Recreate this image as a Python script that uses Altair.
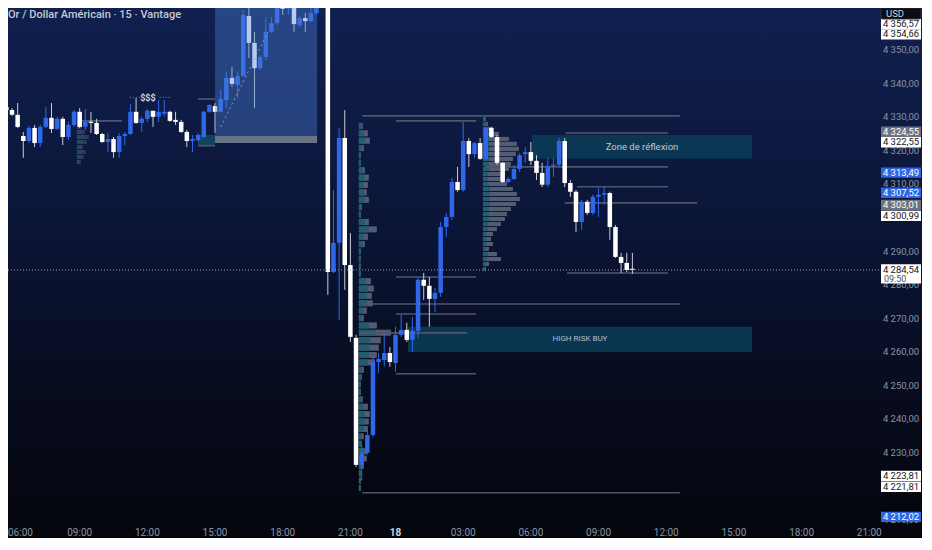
import altair as alt
import pandas as pd

# ---------------- data ----------------
# 15-minute bars; index 0 = 06:00 (day 17); market break 22:00-23:00
bar_index = list(range(-2, 111))
opens = [4331.6, 4333.0, 4332.1, 4330.7, 4324.4, 4322.9, 4326.8, 4322.3, 4327.1, 4329.8,
         4326.5, 4329.5, 4324.1, 4327.7, 4331.6, 4327.1, 4328.6, 4328.3, 4325.0, 4322.6,
         4323.5, 4319.6, 4324.4, 4325.0, 4331.6, 4328.3, 4329.5, 4331.9, 4330.1, 4331.0,
         4331.6, 4329.2, 4328.6, 4325.6, 4322.9, 4323.2, 4324.1, 4331.6, 4333.3, 4331.6,
         4335.1, 4341.7, 4339.6, 4342.3, 4360.1, 4352.1, 4344.6, 4347.9, 4355.4, 4358.0,
         4363.4, 4362.2, 4366.0, 4357.4, 4359.5, 4358.6, 4361.0, 4368.0, 4370.0, 4283.9,
         4292.6, 4323.8, 4286.0, 4264.3, 4226.5, 4230.1, 4235.4, 4257.1, 4257.7, 4259.8,
         4256.8, 4265.2, 4266.7, 4263.7, 4266.4, 4281.6, 4279.8, 4275.9, 4277.7, 4297.3,
         4300.3, 4310.7, 4308.3, 4322.9, 4319.0, 4322.3, 4317.6, 4326.8, 4324.1, 4316.4,
         4310.7, 4311.6, 4314.6, 4319.0, 4319.6, 4317.0, 4313.4, 4309.9, 4315.5, 4315.8,
         4322.9, 4310.4, 4307.8, 4298.8, 4304.8, 4301.5, 4306.3, 4306.9, 4307.4, 4297.3,
         4288.4, 4286.6, 4284.6]
highs = [4333.9, 4333.6, 4332.7, 4334.2, 4325.6, 4327.4, 4327.7, 4327.7, 4333.0, 4334.2,
         4330.1, 4330.1, 4328.6, 4332.1, 4332.7, 4332.4, 4331.6, 4329.5, 4325.3, 4325.3,
         4324.1, 4325.3, 4325.6, 4333.9, 4335.7, 4330.1, 4332.4, 4331.9, 4335.1, 4335.1,
         4331.9, 4331.6, 4329.2, 4326.2, 4324.7, 4325.3, 4331.9, 4333.9, 4334.2, 4338.1,
         4343.5, 4344.9, 4343.5, 4361.9, 4364.0, 4355.4, 4348.5, 4359.8, 4359.8, 4364.9,
         4365.2, 4368.0, 4368.0, 4360.1, 4361.0, 4364.0, 4369.0, 4374.0, 4372.0, 4308.3,
         4326.8, 4332.1, 4295.5, 4265.2, 4232.4, 4236.9, 4258.6, 4259.8, 4265.8, 4261.6,
         4267.6, 4271.1, 4268.8, 4270.5, 4282.4, 4283.6, 4282.4, 4279.2, 4298.8, 4301.5,
         4311.9, 4315.2, 4328.6, 4323.8, 4322.6, 4323.8, 4327.1, 4327.1, 4324.7, 4316.7,
         4312.2, 4315.8, 4319.3, 4321.1, 4322.6, 4318.7, 4316.4, 4317.9, 4317.9, 4323.8,
         4323.8, 4311.3, 4308.3, 4305.4, 4305.4, 4306.9, 4309.0, 4309.2, 4307.8, 4297.9,
         4289.6, 4289.6, 4289.6]
lows = [4331.0, 4330.7, 4330.4, 4326.8, 4317.9, 4322.3, 4321.1, 4321.1, 4326.8, 4325.3,
        4326.2, 4321.7, 4323.2, 4327.1, 4326.8, 4326.2, 4325.3, 4324.7, 4322.3, 4319.6,
        4317.9, 4317.9, 4321.7, 4324.7, 4328.0, 4325.6, 4328.6, 4327.1, 4328.6, 4330.1,
        4328.6, 4327.7, 4325.3, 4321.1, 4319.6, 4322.6, 4323.8, 4331.3, 4325.3, 4331.3,
        4332.7, 4339.0, 4335.7, 4342.0, 4347.6, 4332.7, 4344.0, 4347.0, 4355.1, 4357.4,
        4360.4, 4360.4, 4355.4, 4356.8, 4355.4, 4358.3, 4360.4, 4366.0, 4277.1, 4283.6,
        4269.6, 4278.6, 4263.1, 4225.9, 4221.8, 4229.5, 4234.8, 4253.9, 4255.7, 4255.7,
        4254.2, 4264.6, 4263.1, 4260.1, 4264.3, 4275.6, 4267.6, 4272.0, 4276.5, 4294.3,
        4299.4, 4307.8, 4307.8, 4315.2, 4317.9, 4317.3, 4317.3, 4323.8, 4315.8, 4310.4,
        4310.4, 4311.3, 4313.7, 4316.4, 4315.8, 4311.3, 4309.2, 4309.2, 4312.2, 4315.2,
        4309.2, 4306.3, 4295.8, 4296.4, 4300.9, 4300.9, 4300.3, 4303.9, 4293.5, 4288.1,
        4283.6, 4283.9, 4283.3]
closes = [4333.0, 4332.1, 4330.7, 4327.1, 4322.9, 4326.8, 4322.3, 4327.1, 4329.8, 4326.5,
          4329.5, 4324.1, 4327.7, 4331.6, 4327.1, 4328.6, 4328.3, 4325.0, 4322.6, 4323.5,
          4319.6, 4324.4, 4325.0, 4331.6, 4328.3, 4329.5, 4331.9, 4330.1, 4331.6, 4331.6,
          4328.9, 4328.6, 4325.6, 4322.9, 4323.5, 4324.7, 4331.6, 4333.6, 4331.6, 4335.4,
          4341.7, 4339.9, 4342.3, 4360.4, 4352.1, 4344.6, 4347.9, 4355.4, 4358.0, 4363.4,
          4362.2, 4366.0, 4357.7, 4359.5, 4358.6, 4361.0, 4367.0, 4372.0, 4283.9, 4292.6,
          4323.8, 4286.0, 4264.6, 4226.5, 4230.1, 4235.4, 4257.1, 4258.0, 4259.8, 4257.1,
          4265.2, 4266.7, 4263.7, 4266.4, 4281.6, 4279.8, 4275.9, 4277.7, 4297.3, 4300.3,
          4310.7, 4308.3, 4322.9, 4319.0, 4322.3, 4317.6, 4326.8, 4324.1, 4316.4, 4310.7,
          4311.6, 4314.6, 4318.7, 4319.6, 4317.0, 4313.4, 4309.9, 4315.5, 4315.8, 4322.9,
          4310.4, 4307.8, 4298.8, 4304.8, 4301.5, 4306.3, 4306.9, 4307.4, 4297.3, 4288.4,
          4286.6, 4284.5, 4284.54]

# time axis
time_pos = [0, 12, 24, 36, 48, 60, 68, 80, 92, 104, 116, 128, 140, 152]
time_lab = ["06:00", "09:00", "12:00", "15:00", "18:00", "21:00", "18",
            "03:00", "06:00", "09:00", "12:00", "15:00", "18:00", "21:00"]

# price scale labels that are visible (4220 and 4300 are hidden by badges)
price_ticks = [4210, 4230, 4240, 4250, 4260, 4270, 4280, 4290,
               4310, 4320, 4330, 4340, 4350]

# fixed-range volume profiles (volume per row, row top price, row step)
vp1_vol = [4, 9, 11, 5, 2, 2, 6, 10, 9, 8, 10, 3, 2, 10, 18, 9, 6, 2, 2, 2, 2, 12, 15, 13, 14,
           8, 5, 18, 32, 22, 20, 18, 16, 5, 3, 2, 2, 4, 9, 11, 10, 9, 5, 3, 8, 8, 5, 2, 2, 2]
vp1_up = [3, 5, 6, 3, 2, 2, 4, 6, 5, 5, 6, 2, 2, 6, 10, 5, 4, 2, 2, 2, 2, 7, 9, 8, 8,
          5, 3, 10, 17, 12, 11, 10, 9, 3, 2, 2, 2, 3, 5, 6, 6, 5, 3, 2, 5, 5, 3, 2, 2, 2]
vp1_anchor, vp1_top, vp1_step = 61.5, 4328.3, 2.2

vp2_vol = [3, 5, 10, 16, 26, 34, 36, 33, 30, 28, 26, 22, 20, 24, 30, 34, 37, 33, 28, 24, 22,
           18, 14, 10, 8, 10, 6, 14, 18, 6, 3]
vp2_up = [2, 3, 4, 5, 6, 7, 7, 6, 7, 6, 6, 5, 5, 6, 7, 7, 7, 7, 6, 6, 6, 5, 5, 4, 4, 4, 3,
          5, 4, 3, 2]
vp2_anchor, vp2_top, vp2_step = 83.5, 4330.1, 1.49

vp3_vol = [3, 5, 8, 12, 10, 6, 9, 7, 4]
vp3_up = [2, 3, 5, 7, 6, 4, 5, 4, 3]
vp3_anchor, vp3_top, vp3_step = 11.5, 4329.2, 1.49

# horizontal rays: price, start bar, end bar
ray_price = [4330.4, 4328.9, 4325.3, 4315.2, 4309.3, 4304.5, 4283.6, 4282.4, 4274.4,
             4271.4, 4265.8, 4253.6, 4218.2, 4328.9, 4335.4, 4321.5]
ray_start = [62.1, 68.1, 98.1, 83.9, 100.2, 98.0, 98.4, 68.1, 62.1, 68.1, 61.7, 68.1, 62.1,
             12.1, 33.0, 33.0]
ray_end = [118.4, 82.3, 116.3, 116.3, 116.3, 121.5, 116.3, 82.3, 118.4, 82.3, 80.7, 82.3,
           118.4, 19.5, 36.0, 36.0]

# zones
zone_names = ["Zone de réflexion", "HIGH RISK BUY"]
zone_x1 = [92.2, 70.2]
zone_x2 = [131.2, 131.2]
zone_top = [4324.7, 4267.6]
zone_bot = [4317.6, 4260.1]
zone_label_x = [111.7, 100.7]

# price badges on the scale
badge_val = [4356.57, 4354.66, 4324.55, 4322.55, 4313.49, 4307.52, 4303.01, 4300.99,
             4223.81, 4221.81, 4212.02]
badge_kind = ["w", "w", "g", "w", "b", "b", "g", "w", "w", "w", "b"]
badge_nudge_px = [3.9, 0, 3.8, 0, 0, 0, 2.9, -1.3, -2, -6.2, -3.4]
last_price = 4284.54
countdown = "09:50"

# ---------------- layout ----------------
W, H = 870, 520
PAD_R, PAD_B = 44, 10
X_DOM = [-0.71, 153.55]
Y_DOM = [4207.7, 4362.5]
PXU = H / (Y_DOM[1] - Y_DOM[0])      # px per price unit
BPX = W / (X_DOM[1] - X_DOM[0])      # px per bar
FONT = "Roboto"
BLUE = "#2f67e8"
WHITE = "#ffffff"
AXIS_CX = 893
BADGE_HW = 20

xs = alt.Scale(domain=X_DOM, nice=False, zero=False)
ys = alt.Scale(domain=Y_DOM, nice=False, zero=False)


def X(f):
    return alt.X(f, type="quantitative", scale=xs, axis=None)


def Y(f):
    return alt.Y(f, type="quantitative", scale=ys, axis=None)


def fmt(v):
    return f"{v:,.2f}".replace(",", " ").replace(".", ",")


one = pd.DataFrame({"a": [0]})

bg = alt.Chart(one).mark_rect(
    color=alt.Gradient(
        gradient="linear",
        stops=[alt.GradientStop(color="#10204f", offset=0),
               alt.GradientStop(color="#0b1537", offset=0.4),
               alt.GradientStop(color="#070b1c", offset=0.75),
               alt.GradientStop(color="#04060c", offset=1)],
        x1=0, x2=0, y1=0, y2=1)
).encode(x=alt.value(0), x2=alt.value(W + PAD_R), y=alt.value(0), y2=alt.value(H + PAD_B))

# zones
zdf = pd.DataFrame({"name": zone_names, "x1": zone_x1, "x2": zone_x2,
                    "top": zone_top, "bot": zone_bot, "lx": zone_label_x})
zdf["fs"] = [9.5, 8]
zone_rect = alt.Chart(zdf).mark_rect(color="#0b3a55", opacity=0.92).encode(
    x=X("x1"), x2="x2", y=Y("top"), y2="bot")
zone_text1 = alt.Chart(zdf.iloc[[0]]).transform_calculate(
    ym="(datum.top + datum.bot) / 2").mark_text(font=FONT, fontSize=9.5, color="#c3c7d1").encode(
    x=X("lx:Q"), y=Y("ym:Q"), text="name:N")
zone_text2 = alt.Chart(zdf.iloc[[1]]).transform_calculate(
    ym="(datum.top + datum.bot) / 2").mark_text(font=FONT, fontSize=8, color="#b8bcc7").encode(
    x=X("lx:Q"), y=Y("ym:Q"), text="name:N")

# small teal box near the left
small_box = alt.Chart(pd.DataFrame({"x1": [33.0], "x2": [36.0], "t": [4324.7], "b": [4321.5]})
                      ).mark_rect(color="#0e4a60", opacity=0.9).encode(
    x=X("x1"), x2="x2", y=Y("t"), y2="b")


def profile(vol, up, anchor, top, step, op):
    rows = []
    for k, (v, u) in enumerate(zip(vol, up)):
        t = top - k * step
        rows.append({"x0": anchor, "xv": anchor + v / BPX, "xu": anchor + u / BPX,
                     "t": t, "b": t - step * 0.82})
    df = pd.DataFrame(rows)
    gray = alt.Chart(df).mark_rect(color="#596075", opacity=op).encode(
        x=X("x0"), x2="xv", y=Y("t"), y2="b")
    teal = alt.Chart(df).mark_rect(color="#1d5e70", opacity=op).encode(
        x=X("x0"), x2="xu", y=Y("t"), y2="b")
    return [gray, teal]


vp_layers = (profile(vp1_vol, vp1_up, vp1_anchor, vp1_top, vp1_step, 0.95)
             + profile(vp2_vol, vp2_up, vp2_anchor, vp2_top, vp2_step, 0.95)
             + profile(vp3_vol, vp3_up, vp3_anchor, vp3_top, vp3_step, 0.45))

rdf = pd.DataFrame({"p": ray_price, "s": ray_start, "e": ray_end})
rays = alt.Chart(rdf).mark_rule(color="#4f566b", strokeWidth=1.6).encode(
    x=X("s"), x2="e", y=Y("p"))

# candles
cdf = pd.DataFrame({"i": bar_index, "o": opens, "h": highs, "l": lows, "c": closes})
cbase = alt.Chart(cdf).transform_calculate(
    col=f"datum.c >= datum.o ? '{BLUE}' : '{WHITE}'",
    wcol=f"datum.c >= datum.o ? '{BLUE}' : '#c9ccd4'",
    lo="min(datum.o, datum.c)",
    hi="max(max(datum.o, datum.c), min(datum.o, datum.c) + 0.35)",
    x1="datum.i - 0.4",
    x2="datum.i + 0.4",
)
wicks = cbase.mark_rule(strokeWidth=1).encode(
    x=X("i:Q"), y=Y("l:Q"), y2="h:Q", color=alt.Color("wcol:N", scale=None))
bodies = cbase.mark_rect().encode(
    x=X("x1:Q"), x2="x2:Q", y=Y("lo:Q"), y2="hi:Q", color=alt.Color("col:N", scale=None))

# highlighted box over the afternoon rally
overlay = alt.Chart(pd.DataFrame({"x1": [36.0], "x2": [54.1], "t": [4372.0], "b": [4324.4]})
                    ).mark_rect(color="#4a7fd6", opacity=0.4).encode(
    x=X("x1"), x2="x2", y=Y("t"), y2="b")
strip = alt.Chart(pd.DataFrame({"x1": [36.0], "x2": [54.1], "t": [4324.4], "b": [4322.3]})
                  ).mark_rect(color="#70778a", opacity=0.95).encode(
    x=X("x1"), x2="x2", y=Y("t"), y2="b")
diag = alt.Chart(pd.DataFrame({"i": [37.0, 45.4], "p": [4327.1, 4355.4]})).mark_line(
    color="#8f9ab5", strokeDash=[2, 3], strokeWidth=1).encode(x=X("i"), y=Y("p"))

# $$$ marker
dollar = alt.Chart(pd.DataFrame({"i": [24.1], "p": [4335.7], "t": ["$$$"]})).mark_text(
    font=FONT, fontSize=9, fontWeight="bold", color="#d4d7de").encode(
    x=X("i"), y=Y("p"), text="t")
dollar_lines = alt.Chart(pd.DataFrame({"s": [20.9, 26.2], "e": [22.7, 28.0], "p": [4335.9, 4335.9]})
                         ).mark_rule(color="#8a90a0", strokeDash=[1, 2], strokeWidth=1).encode(
    x=X("s"), x2="e", y=Y("p"))

# last-price dotted line
lp_line = alt.Chart(pd.DataFrame({"p": [last_price]})).mark_rule(
    color="#9aa0b0", strokeDash=[1, 2], strokeWidth=1).encode(
    x=alt.value(0), x2=alt.value(W + 6), y=Y("p"))

# price scale labels
tdf = pd.DataFrame({"p": price_ticks})
tdf["lab"] = [fmt(v) for v in price_ticks]
ticks = alt.Chart(tdf).mark_text(font=FONT, fontSize=9.5, color="#8b92a4").encode(
    x=alt.value(AXIS_CX), y=Y("p"), text="lab")

# badges
fill_map = {"w": "#ffffff", "g": "#6f727e", "b": "#2e66e3"}
text_map = {"w": "#131722", "g": "#ffffff", "b": "#ffffff"}
bdf = pd.DataFrame({"v": badge_val, "k": badge_kind, "n": badge_nudge_px})
bdf["lab"] = [fmt(v) for v in badge_val]
bdf["fill"] = [fill_map[k] for k in badge_kind]
bdf["tc"] = [text_map[k] for k in badge_kind]
bbase = alt.Chart(bdf).transform_calculate(
    d=f"datum.v + datum.n / {PXU}",
    t=f"datum.v + datum.n / {PXU} + 5.2 / {PXU}",
    b=f"datum.v + datum.n / {PXU} - 5.2 / {PXU}",
)
brect = bbase.mark_rect().encode(
    x=alt.value(AXIS_CX - BADGE_HW), x2=alt.value(AXIS_CX + BADGE_HW), y=Y("t:Q"), y2="b:Q",
    color=alt.Color("fill:N", scale=None))
btext = bbase.mark_text(font=FONT, fontSize=9.5).encode(
    x=alt.value(AXIS_CX), y=Y("d:Q"), text="lab:N", color=alt.Color("tc:N", scale=None))

lp = pd.DataFrame({"v": [last_price]})
lp["lab"] = [fmt(last_price)]
lp["cd"] = [countdown]
lpb = alt.Chart(lp).transform_calculate(
    t=f"datum.v + 5.6 / {PXU}", b=f"datum.v - 13.6 / {PXU}", c2=f"datum.v - 9.0 / {PXU}")
lp_rect = lpb.mark_rect(color="#ffffff").encode(
    x=alt.value(AXIS_CX - BADGE_HW), x2=alt.value(AXIS_CX + BADGE_HW), y=Y("t:Q"), y2="b:Q")
lp_t1 = lpb.mark_text(font=FONT, fontSize=9.5, color="#131722").encode(
    x=alt.value(AXIS_CX), y=Y("v:Q"), text="lab:N")
lp_t2 = lpb.mark_text(font=FONT, fontSize=9, color="#50535e", align="left").encode(
    x=alt.value(AXIS_CX - 17), y=Y("c2:Q"), text="cd:N")

# time labels
tl = pd.DataFrame({"i": time_pos, "lab": time_lab})
first = tl.iloc[[0]]
rest = tl.iloc[1:]
tl_first = alt.Chart(first).mark_text(
    font=FONT, fontSize=10, color="#8b92a4", baseline="middle", align="left", dx=-4).encode(
    x=X("i"), y=alt.value(H + 5), text="lab")
tl_norm = alt.Chart(rest[rest["lab"] != "18"]).mark_text(
    font=FONT, fontSize=10, color="#8b92a4", baseline="middle").encode(
    x=X("i"), y=alt.value(H + 5), text="lab")
tl_bold = alt.Chart(rest[rest["lab"] == "18"]).mark_text(
    font=FONT, fontSize=10, fontWeight="bold", color="#d1d4dc", baseline="middle").encode(
    x=X("i"), y=alt.value(H + 5), text="lab")

# title and currency tag
title = alt.Chart(pd.DataFrame({"t": ["Or / Dollar Américain · 15 · Vantage"]})).mark_text(
    font=FONT, fontSize=11, fontWeight=500, color="#c5c8d2", align="left", baseline="top").encode(
    x=alt.value(0), y=alt.value(1), text="t")
usd_box = alt.Chart(one).mark_rect(color="#0a0d16", stroke="#2a2e39", strokeWidth=1,
                                   cornerRadius=2).encode(
    x=alt.value(AXIS_CX - BADGE_HW), x2=alt.value(AXIS_CX + BADGE_HW), y=alt.value(0),
    y2=alt.value(11))
usd_txt = alt.Chart(pd.DataFrame({"t": ["USD"]})).mark_text(
    font=FONT, fontSize=9.5, color="#d1d4dc", align="left").encode(
    x=alt.value(AXIS_CX - 15), y=alt.value(5.5), text="t")

layers = ([bg, small_box, zone_rect] + vp_layers +
          [rays, wicks, bodies, overlay, strip, diag, dollar_lines, dollar, lp_line,
           zone_text1, zone_text2, ticks, brect, btext, lp_rect, lp_t1, lp_t2,
           tl_first, tl_norm, tl_bold, title, usd_box, usd_txt])

chart = alt.layer(*layers).properties(
    width=W, height=H,
    padding={"left": 0, "top": 0, "right": PAD_R, "bottom": PAD_B},
    autosize=alt.AutoSizeParams(type="none"),
).configure_view(strokeWidth=0).configure(background="#070b1c")

chart.save("out.html", embed_options={"renderer": "svg", "actions": False})
